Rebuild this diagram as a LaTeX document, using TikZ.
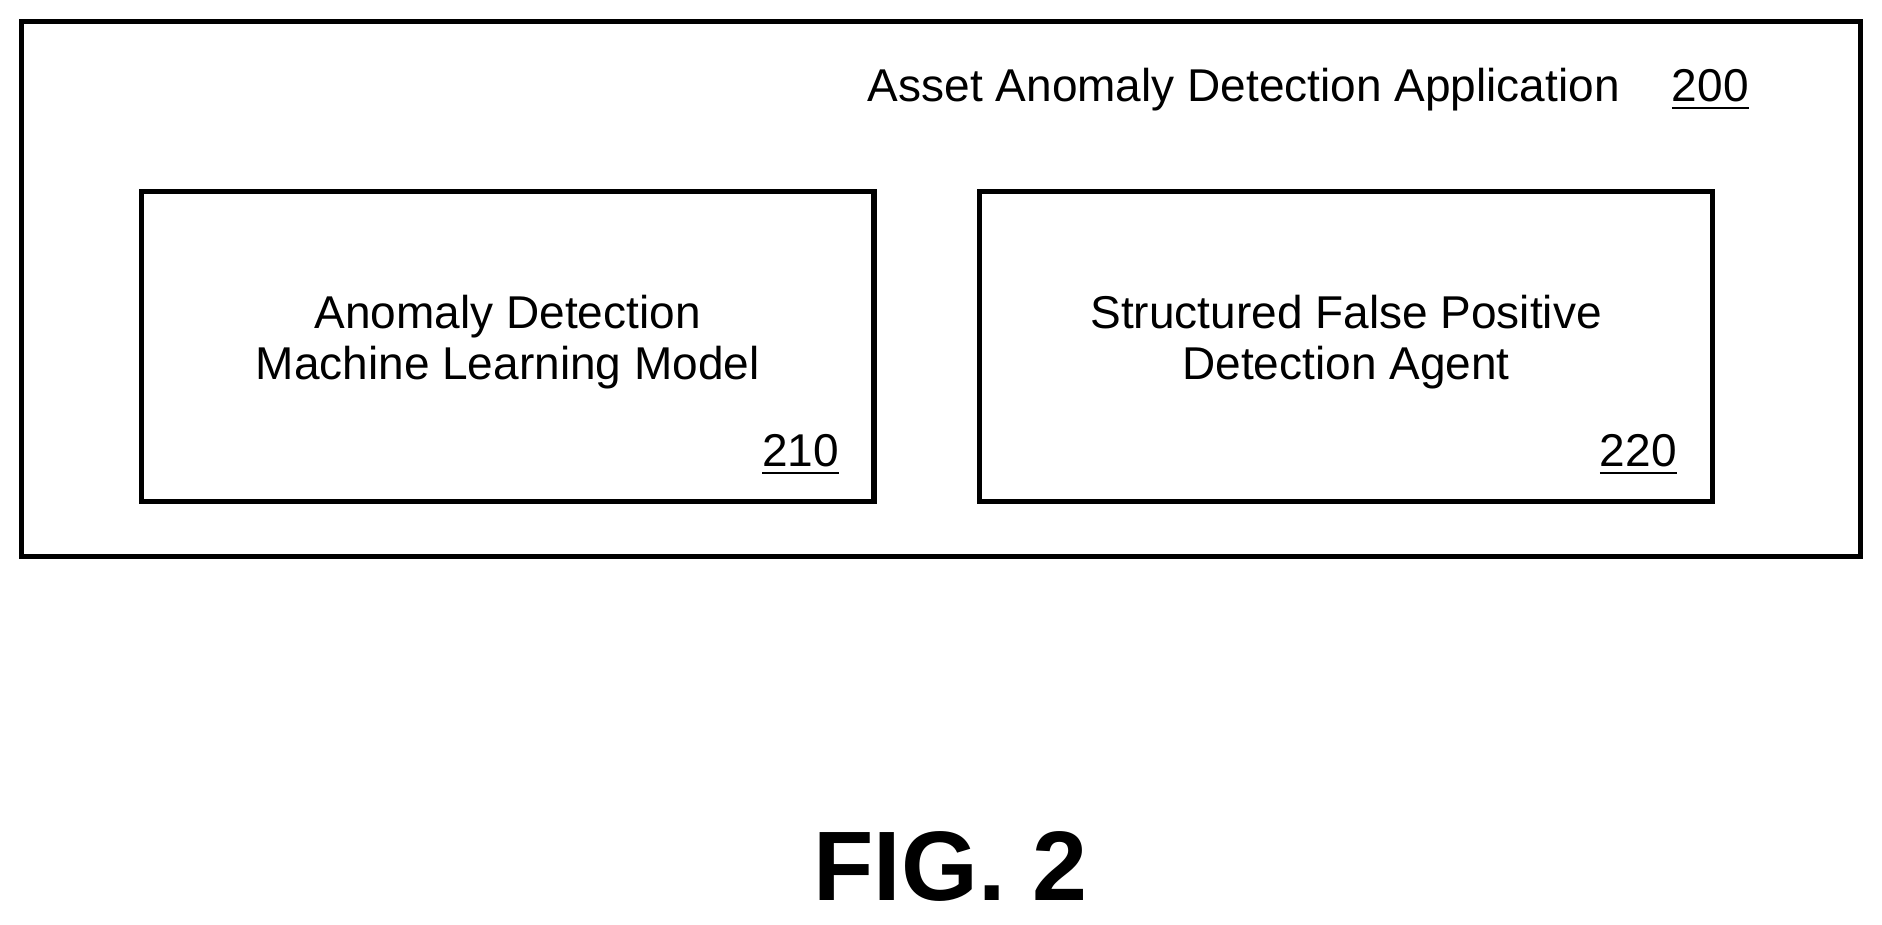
\documentclass[tikz,border=0pt]{standalone}
\usepackage{fontspec}
\setmainfont{Liberation Sans}
\usetikzlibrary{positioning}
\tikzset{
    box/.style = {
      draw,
      line width=1.2pt,
      rectangle,
      minimum width=6.1cm,
      minimum height=2.58cm
    },
    label/.style = {
      font=\fontsize{10.9}{12}\selectfont,
      align=center
    },
    ref/.style = {
      font=\fontsize{10.9}{12}\selectfont
    },
}
\begin{document}
\begin{tikzpicture}[x=0.01cm,y=-0.01cm]
        \useasboundingbox (0,0) rectangle (1568,770);

        \draw[line width=1.2pt] (18,18) rectangle (1550,464);
        \node[ref, anchor=east] (apptitle) at (1362,75) {Asset Anomaly Detection Application};
        \node[ref] (appref) at (1425,75) {\underline{200}};

        \node[box] (model) at (423,289) {};
        \node[box] (agent) at (1121.5,289) {};

        \node[label] (modeltext) at (423,285) {Anomaly Detection\\Machine Learning Model};
        \node[label] (agenttext) at (1121.5,285) {Structured False Positive\\Detection Agent};

        \node[ref] (modelref) at (667,379) {\underline{210}};
        \node[ref] (agentref) at (1365,379) {\underline{220}};

        \node[font=\bfseries\fontsize{23.4}{28}\selectfont] (fig) at (792,722) {FIG. 2};
      \end{tikzpicture}
\end{document}
